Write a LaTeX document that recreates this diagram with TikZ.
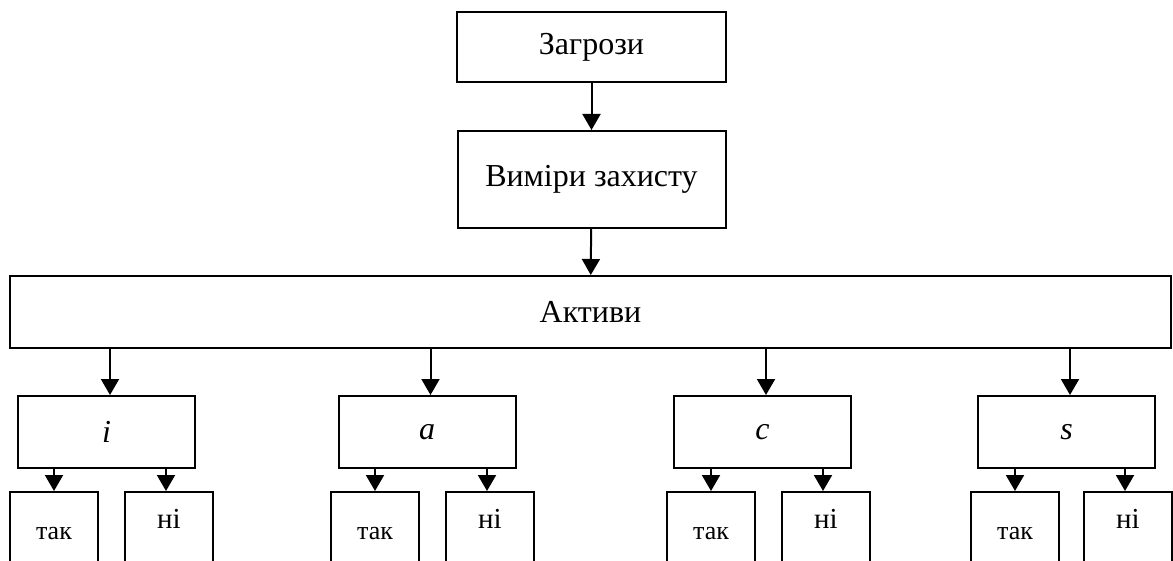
\documentclass[tikz,border=0pt]{standalone}
\usepackage{fontspec}
\setmainfont{Liberation Serif}
\usetikzlibrary{arrows.meta}
\tikzset{
  blok/.style={draw,line width=1pt,inner sep=0pt,font=\fontsize{16}{19}\selectfont},
  lyst/.style={draw,line width=1pt,anchor=north,inner sep=0pt,minimum width=44pt,
    text depth=45pt,font=\fontsize{13}{15}\selectfont},
  strilka/.style={line width=1pt,-{Triangle[width=9pt,length=8pt]}}
}
\begin{document}
\begin{tikzpicture}[x=0.5pt,y=-0.5pt]
     \useasboundingbox (0,0) rectangle (1173,561);
     \node[blok,minimum width=134.5pt,minimum height=35pt] (zagr) at (591.5,47) {Загрози};
     \node[blok,minimum width=134pt,minimum height=48.5pt] (vymir) at (591.5,179.5) {Виміри захисту};
     \node[blok,minimum width=580.5pt,minimum height=36pt] (aktyv) at (590.5,312) {Активи};
     \draw[strilka] (zagr) -- (vymir);
     \draw[strilka] (vymir) -- (aktyv);
     % i, a, c, s
     \foreach \k/\gx/\tx/\nx in {i/106.5/54/169, a/427/375/490, c/762.5/711/826, s/1066.5/1015/1128} {
      \node[blok,minimum width=88.5pt,minimum height=36pt] (g\k) at (\gx,432) {\itshape\k};
      \node[lyst,text height=23.5pt] (tak\k) at (\tx,491) {так};
      \node[lyst,text height=18pt,font=\fontsize{14.5}{17}\selectfont] (ni\k) at (\nx,491) {ні};
      \draw[strilka] ([xshift=1.75pt]g\k.north |- aktyv.south) -- ([xshift=1.75pt]g\k.north);
      \draw[strilka] (g\k.south -| tak\k.north) -- (tak\k.north);
      \draw[strilka] ([xshift=-1.5pt]ni\k.north |- g\k.south) -- ([xshift=-1.5pt]ni\k.north);
     }
    \end{tikzpicture}
\end{document}
